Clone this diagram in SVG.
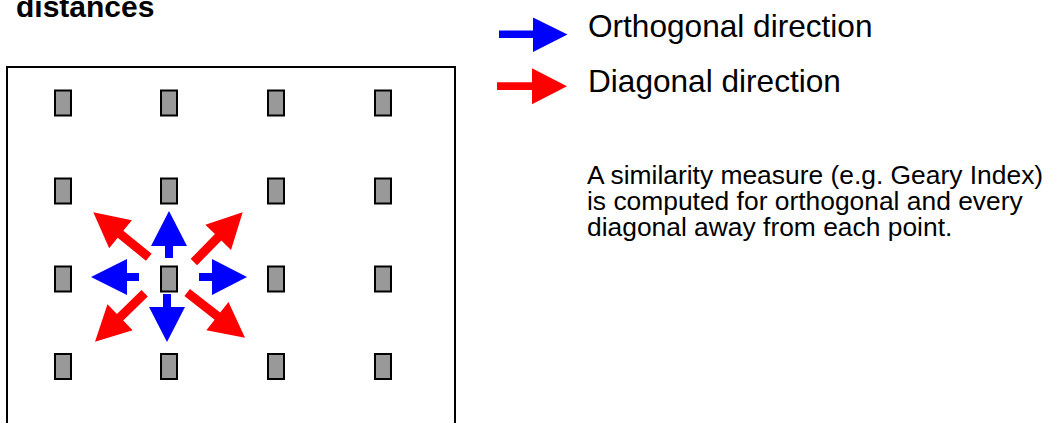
<svg xmlns="http://www.w3.org/2000/svg" width="1053" height="423" viewBox="0 0 1053 423">
  <style>
    .pt { fill: #999999; stroke: #000000; stroke-width: 2; }
    .blue { fill: #0000FF; }
    .red { fill: #FF0000; }
    .lbl { font-family: "Liberation Sans", Arial, sans-serif; fill: #000000; }
  </style>
  <rect width="1053" height="423" fill="#FFFFFF"/>

  <g id="title">
    <text class="lbl" x="16" y="17" font-size="30" font-weight="bold">distances</text>
  </g>

  <g id="frame">
    <rect x="7" y="67" width="448" height="400" fill="none" stroke="#000000" stroke-width="2"/>
  </g>

  <g id="points">
    <g id="p00"><rect class="pt" x="55" y="90.5" width="16" height="25"/></g>
    <g id="p01"><rect class="pt" x="161" y="90.5" width="16" height="25"/></g>
    <g id="p02"><rect class="pt" x="268" y="90.5" width="16" height="25"/></g>
    <g id="p03"><rect class="pt" x="375" y="90.5" width="16" height="25"/></g>
    <g id="p10"><rect class="pt" x="55" y="178.5" width="16" height="25"/></g>
    <g id="p11"><rect class="pt" x="161" y="178.5" width="16" height="25"/></g>
    <g id="p12"><rect class="pt" x="268" y="178.5" width="16" height="25"/></g>
    <g id="p13"><rect class="pt" x="375" y="178.5" width="16" height="25"/></g>
    <g id="p20"><rect class="pt" x="55" y="266.5" width="16" height="25"/></g>
    <g id="p21"><rect class="pt" x="161" y="266.5" width="16" height="25"/></g>
    <g id="p22"><rect class="pt" x="268" y="266.5" width="16" height="25"/></g>
    <g id="p23"><rect class="pt" x="375" y="266.5" width="16" height="25"/></g>
    <g id="p30"><rect class="pt" x="55" y="354" width="16" height="25"/></g>
    <g id="p31"><rect class="pt" x="161" y="354" width="16" height="25"/></g>
    <g id="p32"><rect class="pt" x="268" y="354" width="16" height="25"/></g>
    <g id="p33"><rect class="pt" x="375" y="354" width="16" height="25"/></g>
  </g>

  <g id="connectors">
    <!-- orthogonal (blue) -->
    <polygon class="blue" points="169,211 187,246 173,246 173,258 165,258 165,246 151,246"/>
    <polygon class="blue" points="167,342 185,307 171,307 171,294 163,294 163,307 149,307"/>
    <polygon class="blue" points="91,277 127,259 127,273 139,273 139,281 127,281 127,295"/>
    <polygon class="blue" points="247,277 212,259 212,273 199,273 199,281 212,281 212,295"/>
    <!-- diagonal (red): tip at origin, shaft back along -x -->
    <polygon class="red" transform="translate(93.3,212.3) rotate(219)" points="0,0 -35,-18 -35,-4.5 -71.4,-4.5 -71.4,4.5 -35,4.5 -35,18"/>
    <polygon class="red" transform="translate(242.7,212.3) rotate(-45.5)" points="0,0 -35,-18 -35,-4.5 -69.7,-4.5 -69.7,4.5 -35,4.5 -35,18"/>
    <polygon class="red" transform="translate(95,341.7) rotate(135.7)" points="0,0 -35,-18 -35,-4.5 -69.4,-4.5 -69.4,4.5 -35,4.5 -35,18"/>
    <polygon class="red" transform="translate(245,337.7) rotate(38)" points="0,0 -35,-18 -35,-4.5 -73.4,-4.5 -73.4,4.5 -35,4.5 -35,18"/>
  </g>

  <g id="legend">
    <g id="legend-orthogonal">
      <polygon class="blue" points="567.5,34.5 533,17.5 533,30.5 499,30.5 499,38 533,38 533,52"/>
      <text class="lbl" x="588" y="36.5" font-size="31.6">Orthogonal direction</text>
    </g>
    <g id="legend-diagonal">
      <polygon class="red" points="567,86.3 532,68.3 532,82.3 497,82.3 497,90 532,90 532,104.3"/>
      <text class="lbl" x="588" y="92.3" font-size="31.6">Diagonal direction</text>
    </g>
  </g>

  <g id="note">
    <text class="lbl" font-size="26.4">
      <tspan x="587" y="184">A similarity measure (e.g. Geary Index)</tspan>
      <tspan x="587" y="210">is computed for orthogonal and every</tspan>
      <tspan x="587" y="236">diagonal away from each point.</tspan>
    </text>
  </g>
</svg>
